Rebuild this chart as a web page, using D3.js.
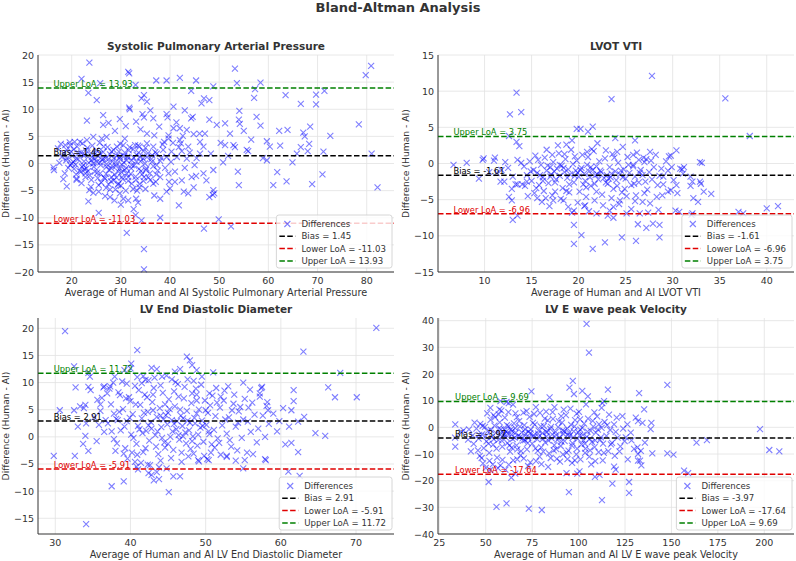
<!DOCTYPE html>
<html>
<head>
<meta charset="utf-8">
<script src="https://cdn.jsdelivr.net/npm/d3@7"></script>
<style>
  body { margin: 0; background: #fff; }
  svg { font-family: "DejaVu Sans", sans-serif; }
</style>
</head>
<body>
<script>
var W = 796, H = 561;

// ---- data: [average, difference] ----
var spapPoints = [
  [23.6,18.6],[22.0,15.6],[25.8,14.8],[23.4,13.0],[25.1,11.7],[31.5,16.9],[31.7,16.6],[33.0,14.5],[23.1,7.9],[26.4,8.9],
  [26.4,7.1],[31.7,10.3],[31.8,10.0],[33.1,7.7],[34.2,12.0],[34.7,12.6],[34.4,9.1],[34.7,8.5],[35.3,11.4],[35.3,5.5],
  [35.3,3.7],[37.2,15.3],[36.6,8.3],[37.8,6.8],[39.3,15.3],[39.3,9.1],[39.5,8.5],[40.7,10.5],[39.7,5.2],[39.7,4.6],
  [42.0,15.8],[43.0,9.8],[44.3,8.3],[44.6,8.6],[43.4,6.2],[42.0,6.5],[40.7,6.5],[42.0,4.3],[42.2,3.7],[45.3,15.3],
  [44.3,13.4],[46.4,11.1],[46.9,12.0],[48.0,11.7],[48.0,8.1],[48.8,14.2],[46.0,5.5],[47.1,5.5],[49.5,7.1],[51.2,7.4],
  [52.2,5.5],[51.2,3.4],[53.2,17.5],[53.6,14.8],[54.1,9.7],[54.0,8.1],[54.2,7.3],[52.9,3.4],[53.2,3.0],[55.0,6.0],
  [55.6,2.5],[55.9,2.3],[57.1,12.1],[57.3,13.7],[57.6,8.6],[58.4,14.9],[58.4,7.0],[59.7,4.1],[60.3,3.1],[62.2,6.0],
  [62.4,3.3],[63.5,12.6],[63.9,6.2],[66.6,11.0],[67.1,5.7],[67.4,5.0],[68.5,6.8],[69.7,12.7],[69.7,10.9],[71.4,13.4],
  [72.6,5.1],[66.6,3.0],[68.0,2.3],[68.3,3.6],[71.2,2.2],[78.4,7.2],[79.8,16.3],[80.9,18.0],[81.0,1.8],[82.2,-4.4],
  [59.7,0.6],[64.9,0.2],[50.8,0.2],[61.0,-4.0],[63.7,-3.3],[68.9,-3.8],[71.0,-2.0],[54.0,-4.0],[53.8,-1.5],[48.8,-1.2],
  [47.4,-3.1],[48.8,-4.9],[49.0,-5.5],[48.7,-5.8],[48.0,-6.2],[46.9,-12.0],[52.4,-11.6],[49.9,-10.3],[41.8,-7.7],[42.8,-5.2],
  [43.7,-5.5],[42.4,-3.1],[44.4,-2.5],[45.3,-2.3],[45.0,-0.3],[45.4,1.0],[46.1,1.8],[46.8,3.1],[46.1,4.0],[38.0,-6.5],
  [38.0,-10.0],[39.3,-5.2],[40.0,-4.6],[39.8,-3.4],[39.7,-1.8],[36.6,-3.7],[37.1,-3.4],[38.0,-2.5],[31.2,-12.8],[34.7,-15.8],
  [34.7,-19.5],[34.2,-10.5],[33.0,-9.5],[32.6,-8.4],[31.5,-6.8],[30.5,-6.5],[29.8,-5.5],[33.1,-6.5],[33.3,-5.0],[33.8,-4.4],
  [34.6,-3.2],[34.7,-2.5],[35.1,-1.2],[23.4,-7.0],[25.5,-9.1],[23.6,-4.9],[24.4,-5.4],[25.5,-5.2],[23.9,-4.3],[27.8,-6.2],
  [27.8,-4.8],[28.1,-2.5],[28.5,-3.1],[19.0,-4.2],[18.3,-2.9],[20.9,-2.0],[21.0,-2.8],[22.8,-1.8],[22.8,-2.5],[16.3,-0.7],
  [16.4,-1.2],[17.5,0.1],[18.0,1.2],[19.0,2.5],[18.7,3.4],[19.7,3.4],[20.6,4.0],[21.7,4.0],[23.1,4.3],[24.4,4.9],
  [26.1,4.6],[27.1,4.9],[28.8,6.0],[30.8,4.6],[30.5,3.4],[29.2,3.1],[28.1,2.2],[25.8,1.8],[24.1,1.2],[22.4,1.5],
  [21.0,0.9],[20.3,0.3],[19.7,-0.3],[22.4,-0.3],[24.4,0.0],[25.1,0.3],[26.4,0.9],[27.1,-0.6],[28.1,-0.9],[29.2,0.0],
  [29.8,1.2],[31.2,0.6],[32.2,-0.3],[33.2,0.3],[33.9,1.2],[35.3,1.2],[36.3,0.3],[37.3,-0.3],[36.6,3.1],[37.3,1.8],
  [38.6,2.5],[39.3,1.2],[40.3,2.2],[41.4,1.2],[42.4,2.3],[43.4,0.9],[43.7,3.1],[32.9,3.4],[33.8,3.1],[29.8,-0.9],
  [30.8,-1.2],[30.2,-2.5],[31.5,-2.5],[32.2,-3.7],[29.5,-3.7],[27.5,-3.8],[26.8,-2.8],[25.8,-1.8],[24.7,-1.5],[29.5,-1.5],
  [22.6,-1.1],[21.9,-1.5],
  [17.2,2.8],[17.8,3.6],[18.4,1.9],[18.9,0.6],[19.3,-0.8],[19.6,3.9],[20.1,1.4],[20.4,2.6],[20.8,-0.2],[21.1,3.1],
  [21.3,0.8],[21.6,-1.4],[21.9,2.0],[22.2,3.7],[22.5,0.4],[22.7,1.6],[23.0,-0.9],[23.2,2.9],[23.5,0.1],[23.7,-2.2],
  [23.9,1.9],[24.2,3.3],[24.5,-0.6],[24.7,0.9],[25.0,2.4],[25.2,-1.7],[25.4,1.3],[25.7,3.8],[25.9,-0.3],[26.2,0.7],
  [26.4,2.1],[26.6,-2.6],[26.9,1.0],[27.1,-0.1],[27.3,3.0],[27.6,-1.2],[27.8,1.7],[28.0,-3.3],[28.3,0.4],[28.5,2.5],
  [28.7,-2.0],[29.0,-0.5],[29.2,1.4],[29.4,-3.9],[29.7,0.9],[29.9,3.6],[30.1,-1.6],[30.4,-2.9],[30.6,0.2],[30.8,2.0],
  [31.1,-0.8],[31.3,1.2],[31.5,-3.2],[31.8,3.0],[32.0,-1.9],[32.2,0.6],[32.5,2.6],[32.7,-0.4],[33.0,-2.4],[33.2,1.6],
  [33.5,3.3],[33.7,-1.0],[34.0,0.4],[34.3,-2.0],[34.6,2.3],[34.9,0.0],[35.2,-0.9],[35.5,1.9],[35.9,-1.8],[36.2,0.8],
  [36.6,-0.5],[37.0,2.1],[37.5,-1.3],[38.0,0.5],[38.5,3.5],[19.0,1.0],[20.0,0.0],[21.0,-3.0],[22.0,-3.6],[24.0,-3.0],
  [25.5,-4.0],[26.0,-3.5],[27.0,-4.5],[28.9,-4.8],[30.0,-4.1],[31.0,-5.0],[32.5,-4.7],[33.8,-3.8],[35.0,-4.7],[36.0,-3.0],
  [18.6,-1.8],[19.9,2.2],[20.5,-1.0],[21.4,1.9],[22.1,-0.6],[22.9,2.4],[23.3,-1.4],[24.0,0.6],[24.8,1.8],[25.3,-2.7],
  [25.8,0.2],[26.5,3.1],[27.0,-1.9],[27.5,0.8],[28.2,-0.4],[28.6,1.0],[29.1,-2.6],[29.6,2.2],[30.2,-0.2],[30.7,1.4],
  [31.2,-1.9],[31.6,2.4],[32.1,-0.9],[32.6,1.1],[33.1,-3.0],[33.6,2.0],[34.1,-1.4],[34.5,0.9],[35.0,2.9],[35.6,-2.6],
  [36.4,1.5],[37.2,-2.0],[38.2,1.0],[39.0,-0.8],[40.2,0.3],[41.0,-1.5],[41.8,3.0],[43.0,-0.8],[44.0,2.0],[38.8,4.0],
  [40.6,3.8],[42.6,5.1],[44.8,5.4],[36.8,5.2],[34.0,6.3],[31.0,6.9],[27.5,7.5],[29.8,8.2],[36.0,9.8],[41.3,7.6],
  [33.5,-7.2],[30.0,-7.6],[28.7,-6.8],[26.8,-6.0],[36.8,-5.9],[41.0,-3.4],[44.8,-4.4],[46.8,-1.8],[48.3,1.8],[50.3,3.8],
  [51.8,1.4],[56.5,4.4],[58.9,1.0],[61.8,-1.6],[65.8,1.8]
];

var lvotPoints = [
  [27.8,12.1],[13.4,9.8],[23.5,8.9],[35.6,9.0],[13.9,7.1],[12.7,6.8],[21.5,5.1],[21.0,4.4],[19.8,4.8],[20.2,4.8],
  [12.6,3.8],[23.9,3.5],[38.2,3.8],[26.0,3.2],[13.4,3.0],[13.7,2.4],[6.7,-0.2],[8.1,0.1],[9.4,-2.1],[9.9,0.7],
  [11.1,0.8],[11.3,-1.3],[11.7,-2.5],[12.1,-2.5],[12.6,-4.6],[12.9,-5.1],[13.0,-7.8],[13.5,-7.2],[13.3,-2.9],[13.5,-2.9],
  [14.3,-3.1],[14.5,-2.5],[15.6,-4.8],[16.1,-5.3],[16.5,-4.8],[17.3,-5.1],[17.5,-3.9],[18.4,-5.1],[19.3,-6.8],[19.5,-6.5],
  [19.5,-8.5],[19.5,-11.1],[20.3,-9.9],[21.5,-11.8],[20.6,-5.9],[20.7,-5.8],[21.9,-6.9],[22.8,-10.9],[23.1,-7.2],[23.7,-7.5],
  [24.6,-10.2],[23.7,-6.0],[24.4,-5.1],[25.1,-6.9],[26.3,-8.4],[26.1,-10.7],[26.5,-6.9],[27.2,-8.9],[27.9,-8.3],[28.6,-8.5],
  [28.6,-10.2],[28.5,-6.4],[27.6,-5.5],[26.8,-5.3],[26.1,-4.4],[29.8,-3.7],[29.5,-3.9],[30.5,-4.1],[30.4,-3.0],[30.8,-0.7],
  [31.0,-0.8],[31.2,-0.5],[29.9,-0.5],[29.6,1.0],[29.8,1.1],[30.4,1.8],[27.6,1.6],[27.2,0.6],[25.8,-0.2],[28.8,-0.7],
  [29.0,-1.8],[31.9,-1.8],[32.1,-2.5],[31.9,-3.1],[32.2,-4.8],[32.7,-5.3],[32.9,-2.5],[33.0,-2.8],[32.1,-6.9],[32.0,-7.1],
  [30.7,-6.7],[30.3,-6.5],[33.1,0.1],[32.9,0.2],[33.3,-3.9],[34.1,-4.2],[37.0,-6.7],[37.5,-6.9],[40.0,-6.2],[41.2,-5.9],
  [14.2,-0.4],[14.5,-1.6],[14.8,0.3],[15.0,-2.4],[15.2,-0.9],[15.4,1.1],[15.6,-1.3],[15.8,-3.0],[16.0,-0.2],[16.2,-1.9],
  [16.4,0.8],[16.6,-1.0],[16.8,-2.7],[17.0,-0.5],[17.1,-1.5],[17.3,0.2],[17.4,-1.1],[17.6,-2.2],[17.7,-0.7],[17.9,1.4],
  [18.0,-1.7],[18.2,-0.3],[18.3,-3.4],[18.5,-1.2],[18.6,0.6],[18.8,-2.0],[18.9,-0.8],[19.1,-1.5],[19.2,1.9],[19.4,-0.1],
  [19.5,-2.6],[19.7,-1.0],[19.8,0.4],[20.0,-1.8],[20.1,-3.9],[20.3,-0.6],[20.4,1.2],[20.6,-1.4],[20.7,-2.4],[20.9,-0.2],
  [21.0,0.9],[21.2,-1.9],[21.3,-3.1],[21.5,-0.9],[21.6,1.7],[21.8,-1.6],[21.9,-0.4],[22.1,-2.2],[22.2,0.3],[22.4,-1.2],
  [22.5,-4.3],[22.7,-2.0],[22.8,0.7],[23.0,-1.6],[23.1,-2.8],[23.3,-0.5],[23.4,-1.9],[23.6,1.3],[23.7,-3.5],[23.9,-1.1],
  [24.0,-2.3],[24.2,0.1],[24.4,-1.5],[24.6,-4.0],[24.8,-0.8],[25.0,-2.1],[25.2,0.9],[25.4,-1.3],[25.6,-3.0],[25.8,-0.4],
  [26.0,-1.8],[26.2,1.5],[26.4,-2.6],[26.6,-0.9],[26.8,-1.6],[27.0,0.2],[27.3,-3.6],[27.5,-1.2],[27.8,-2.2],[28.0,-0.5],
  [28.3,-4.6],[28.6,-1.7],[29.0,-2.9],[29.5,-1.0],[12.5,-0.6],[13.0,-1.8],[13.5,0.5],[14.0,-2.9],[15.3,-4.1],[16.3,-3.8],
  [17.2,-4.4],[18.1,-4.9],[19.0,-4.0],[19.9,-5.4],[20.8,-4.6],[21.7,-5.1],[22.6,-5.8],[23.5,-4.8],[24.3,-5.6],[25.1,-4.5],
  [26.0,-5.2],[16.6,1.9],[17.8,2.5],[18.7,2.6],[19.6,1.0],[21.4,2.0],[22.9,1.8],[24.7,2.3],[25.8,1.2],[26.9,0.8],
  [11.8,-0.9],[12.2,0.2],[10.5,-1.2],[11.0,0.4],[9.8,0.5],
  [14.9,-1.1],[15.9,-1.6],[16.7,-0.3],[17.5,-2.6],[18.4,-0.6],[19.0,-2.9],[19.6,-1.7],[20.2,-0.9],[20.8,-3.3],[21.1,-1.1],
  [21.7,-2.8],[22.3,-1.0],[22.9,-2.6],[23.5,-1.4],[24.1,-3.1],[24.7,-1.9],[25.3,-0.2],[25.9,-2.8],[26.5,-1.3],[27.1,-2.5],
  [27.7,0.4],[28.4,-3.0],[17.0,-1.8],[18.0,-0.2],[19.9,-1.3],[21.3,-0.5],[22.0,-1.5],[23.2,-2.1],[24.5,-1.0],[20.5,-2.9],
  [16.2,-2.4],[15.5,-3.4],[18.7,-3.8],[21.9,-3.9],[24.9,-3.5],[27.0,-4.1],[28.9,-4.4],[30.1,-2.3],[31.1,-1.4],[29.3,0.3],
  [28.2,1.2],[26.4,0.5],[23.8,0.8],[20.9,1.6],[18.5,1.3],[15.7,0.5],[13.9,0.1],[12.9,-3.5],[14.6,-4.5],[16.9,-5.9],
  [18.9,-6.0],[21.1,-6.6],[23.3,-6.5],[25.6,-6.3],[27.4,-6.8],[22.0,2.8],[24.1,1.6],[19.3,3.2],[17.2,1.2]
];

var lveddPoints = [
  [31.3,19.5],[72.7,20.1],[29.8,-3.5],[30.6,4.9],[32.7,9.1],[32.5,13.0],[32.5,4.9],[32.6,-3.5],[33.0,1.9],[33.3,5.6],
  [33.8,5.3],[33.7,-1.3],[34.0,0.2],[34.1,2.5],[34.0,5.9],[34.4,11.8],[34.4,9.2],[34.6,11.1],[34.7,8.6],[34.4,-2.6],
  [34.1,-16.1],[35.8,2.2],[35.6,6.8],[36.0,6.0],[36.4,9.1],[36.5,9.3],[37.3,9.3],[37.7,10.0],[36.9,8.0],[37.5,-9.1],
  [37.8,4.3],[38.3,3.1],[38.6,7.7],[39.2,12.3],[39.1,-8.2],[39.4,7.1],[40.1,13.5],[40.9,16.0],[40.6,-4.6],[40.8,-5.5],
  [40.9,-3.3],[41.7,11.2],[42.4,10.4],[42.3,-5.1],[42.4,-6.7],[42.8,-7.0],[43.1,-8.0],[43.8,-7.8],[43.5,12.5],[44.2,11.1],
  [45.1,-10.2],[44.8,-5.8],[45.7,-7.3],[46.6,-7.3],[45.9,12.0],[46.6,12.5],[47.5,14.8],[47.9,14.1],[48.2,13.2],[48.8,12.3],
  [49.5,11.1],[51.0,11.9],[48.8,7.8],[48.2,8.0],[49.0,-4.3],[49.1,-4.5],[50.4,-4.3],[52.8,-3.5],[52.8,-3.7],[55.0,10.0],
  [55.0,-5.8],[55.5,-2.9],[55.2,-4.3],[57.2,7.4],[57.2,8.0],[57.5,9.2],[57.4,9.0],[57.9,-4.1],[58.0,-4.3],[57.9,0.0],
  [58.1,5.7],[58.3,4.9],[59.5,1.0],[60.3,5.3],[60.6,-1.4],[61.1,1.9],[61.0,-6.4],[61.4,-1.1],[61.7,8.6],[61.7,6.6],
  [61.4,4.9],[62.3,-2.8],[62.5,-7.2],[63.0,15.7],[63.1,3.7],[62.3,2.8],[64.6,0.7],[65.9,0.2],[66.3,9.1],[67.2,7.3],
  [67.9,11.8],[70.1,7.3],
  [37.0,2.5],[37.4,6.0],[37.8,-0.4],[38.1,3.3],[38.4,8.2],[38.7,1.2],[39.0,5.1],[39.3,-2.1],[39.5,2.9],[39.8,7.3],
  [40.1,0.4],[40.3,4.2],[40.6,9.4],[40.8,-1.3],[41.0,2.0],[41.3,5.9],[41.5,3.4],[41.7,-2.8],[41.9,7.8],[42.1,1.1],
  [42.3,4.6],[42.5,-0.7],[42.7,2.7],[42.9,6.4],[43.1,9.0],[43.3,0.3],[43.5,3.7],[43.7,-3.2],[43.9,5.3],[44.1,1.8],
  [44.3,8.1],[44.5,-1.0],[44.7,4.0],[44.9,2.3],[45.1,6.9],[45.3,0.0],[45.5,3.1],[45.7,-2.4],[45.9,5.6],[46.1,1.4],
  [46.3,9.7],[46.5,-0.5],[46.7,3.9],[46.9,2.0],[47.1,7.1],[47.3,0.8],[47.5,4.8],[47.7,-3.6],[47.9,2.6],[48.1,6.2],
  [48.3,0.1],[48.5,3.5],[48.7,8.9],[48.9,-1.6],[49.1,5.0],[49.3,1.7],[49.5,3.0],[49.7,-0.9],[49.9,6.7],[50.1,2.2],
  [50.3,4.4],[50.5,0.5],[50.7,-2.9],[50.9,7.6],[51.1,1.3],[51.3,3.8],[51.6,-0.3],[51.9,5.4],[52.2,2.1],[52.5,8.5],
  [52.8,0.6],[53.1,3.6],[53.4,-1.8],[53.7,6.1],[54.0,1.9],[54.4,4.7],[54.8,-0.2],[55.2,7.0],[55.6,2.8],[56.0,0.9],
  [56.5,4.1],[57.0,1.5],[36.0,4.8],[36.5,0.9],[35.2,3.6],[35.5,-0.8],[38.9,10.2],[39.6,-4.0],[40.9,11.0],[41.4,-4.8],
  [42.0,10.5],[42.6,-5.2],[43.2,10.9],[44.0,-4.4],[44.8,11.3],[45.4,-3.9],[46.0,10.1],[46.8,-4.6],[47.6,10.6],[48.4,-3.1],
  [49.4,9.6],[50.2,-4.1],[51.4,9.0],[52.0,-3.3],[53.0,9.3],[54.2,-2.5],[37.2,8.9],[38.0,-2.6],[40.0,6.6],[41.1,8.6],
  [42.2,7.3],[43.4,-1.8],[44.6,6.0],[45.8,8.4],[46.6,5.0],[47.4,-1.2],[48.8,4.3],[50.6,5.8],[51.8,-1.1],[53.5,4.9],
  [55.0,3.2],[39.2,1.9],[40.4,-0.2],[41.6,0.7],[42.8,1.5],[44.2,-0.2],[45.6,1.0],[46.4,0.3],[47.8,1.2],[49.0,0.4],
  [50.4,1.0],[43.0,4.9],[44.4,3.2],[45.0,4.4],[46.2,2.9],[47.0,3.4],[48.6,2.5],[52.4,6.7],[54.6,5.5],[56.2,6.3],
  [57.6,3.9],[58.4,2.4],[59.0,4.3],
  [38.5,4.6],[39.9,3.5],[40.7,6.0],[41.2,1.4],[41.8,4.4],[42.4,2.1],[43.0,7.8],[43.6,1.0],[44.0,3.9],[44.6,-2.0],
  [45.2,5.1],[45.8,2.4],[46.4,7.4],[47.0,0.1],[47.6,3.0],[48.2,-0.8],[48.8,6.7],[49.6,2.0],[50.0,4.9],[50.8,-1.4],
  [51.5,6.3],[52.6,3.2],[53.2,-0.6],[54.3,2.6],[55.7,5.4],[56.8,-1.0],[58.2,6.4],[59.8,2.9],[36.7,3.1],[37.5,1.0],
  [38.2,-1.2],[39.1,-3.1],[40.2,-2.9],[42.0,-2.1],[43.8,-5.6],[45.0,-1.3],[46.8,-2.9],[48.0,-2.2],[49.8,-3.5],[51.2,-2.0],
  [36.2,7.2],[37.9,11.1],[39.5,9.8],[41.5,9.9],[44.0,9.5],[45.5,10.6],[47.2,9.2],[48.4,10.3],[50.5,8.0],[52.0,7.4],
  [53.8,7.8],[55.9,8.7],[54.0,-4.4],[56.3,-3.2],[41.0,-6.0],[43.5,-6.5],[40.0,12.6],[42.8,12.7]
];

var lvePoints = [
  [104.3,38.8],[105.6,28.0],[96.9,17.4],[95.1,14.9],[97.5,12.5],[102.0,13.7],[105.0,11.6],[74.6,13.5],[84.4,11.2],[115.8,14.1],
  [132.6,12.8],[147.8,15.9],[57.4,6.7],[61.2,9.5],[62.4,9.1],[64.7,8.5],[57.9,9.8],[52.5,7.3],[33.6,1.1],[33.6,-7.2],
  [51.6,-20.5],[55.8,-29.8],[61.2,-28.5],[73.2,-30.5],[80.2,-31.0],[63.8,-18.9],[65.9,-17.4],[60.6,-15.9],[57.9,-14.3],[62.4,-14.0],
  [94.8,-24.3],[93.5,-17.2],[99.3,-17.4],[100.5,-16.5],[108.8,-18.6],[111.3,-17.8],[112.6,-27.3],[118.2,-21.1],[119.1,-14.7],[120.0,-15.9],
  [127.2,-20.5],[127.2,-24.6],[129.9,-8.1],[131.7,-7.5],[132.0,-10.0],[133.1,-12.5],[133.8,-14.3],[132.0,-12.5],[133.5,-8.8],[130.8,3.6],
  [132.0,2.3],[134.4,1.7],[135.3,6.7],[135.7,-5.7],[138.8,-0.7],[139.2,1.7],[139.7,-9.8],[147.8,-9.8],[151.1,-10.2],[156.8,-16.2],
  [159.0,-17.2],[163.5,-5.7],[169.1,-4.8],[197.7,-0.7],[202.7,-8.5],[208.1,-9.0],[112.4,7.3],[112.8,9.1],[113.7,9.8],[116.4,4.8],
  [120.5,3.6],[123.6,4.2],[126.3,1.1],[128.1,-2.0],[125.4,-3.8],[119.1,1.1],
  [45.0,-0.5],[46.2,-4.2],[47.1,1.3],[48.0,-2.6],[48.9,-7.8],[49.6,0.2],[50.4,-5.3],[51.1,-1.4],[51.9,-9.6],[52.6,2.8],
  [53.3,-3.7],[54.0,-6.5],[54.7,0.6],[55.4,-2.1],[56.1,-11.4],[56.8,-4.8],[57.5,1.9],[58.2,-0.8],[58.9,-7.2],[59.6,-3.0],
  [60.3,3.6],[61.0,-1.6],[61.7,-5.9],[62.4,0.4],[63.1,-9.1],[63.8,-2.7],[64.5,-4.4],[65.2,1.5],[65.9,-0.3],[66.6,-6.8],
  [67.3,-3.3],[68.0,2.3],[68.7,-10.5],[69.4,-1.9],[70.1,-5.0],[70.8,0.8],[71.5,-2.4],[72.2,-8.3],[72.9,-4.0],[73.6,3.9],
  [74.3,-0.9],[75.0,-6.1],[75.7,-2.9],[76.4,1.0],[77.1,-12.7],[77.8,-4.5],[78.5,-1.2],[79.2,5.4],[79.9,-7.5],[80.6,-2.2],
  [81.3,0.5],[82.0,-5.6],[82.7,-3.4],[83.4,2.6],[84.1,-9.8],[84.8,-0.6],[85.5,-4.1],[86.2,3.2],[86.9,-6.7],[87.6,-1.7],
  [88.3,-11.8],[89.0,0.1],[89.7,-3.8],[90.4,-7.0],[91.1,1.8],[91.8,-2.5],[92.5,-5.2],[93.2,4.6],[93.9,-0.4],[94.6,-8.7],
  [95.3,-3.1],[96.0,0.9],[96.7,-5.9],[97.4,-1.5],[98.1,2.7],[98.8,-10.1],[99.5,-4.3],[100.2,5.8],[100.9,-0.9],[101.6,-6.4],
  [102.3,-2.8],[103.0,1.4],[103.7,-8.0],[104.4,-3.6],[105.1,3.3],[105.8,-11.0],[106.5,-1.3],[107.2,-5.5],[107.9,0.3],[108.6,-7.4],
  [109.3,-2.0],[110.0,4.1],[110.8,-9.3],[111.6,-4.7],[112.4,-0.2],[113.2,-6.1],[114.0,2.0],[115.0,-3.2],[116.0,-8.9],[117.0,-1.0],
  [118.0,-5.8],[119.5,-10.7],[121.0,-3.9],[122.5,-7.1],[124.0,-0.5],[33.5,-3.9],[38.0,-1.1],[40.5,-4.6],[42.0,-9.0],[43.5,-6.2],
  [44.0,1.8],[46.8,-10.7],[48.5,-13.5],[50.0,-15.2],[52.0,-12.6],[53.8,-13.9],[55.0,3.8],[57.0,4.9],[59.0,-12.2],[60.0,-0.8],
  [62.0,-2.3],[64.0,-7.6],[66.0,5.2],[67.0,-12.0],[69.0,-8.9],[70.5,-11.6],[72.0,6.1],[74.0,-13.1],[76.0,5.0],[78.0,-8.8],
  [80.0,-13.8],[82.5,5.9],[85.0,-11.5],[87.0,7.6],[88.0,-8.2],[90.0,-12.9],[92.0,6.6],[94.0,-11.9],[96.5,-13.3],[99.0,5.1],
  [101.0,-12.0],[103.5,-9.6],[106.0,-4.3],[109.0,-12.7],[111.0,1.2],[57.8,-2.8],[60.9,-3.9],[63.5,-0.9],[66.2,-2.0],[68.6,-3.6],
  [71.2,-4.8],[73.0,-1.6],[75.5,-3.5],[78.2,-2.4],[80.8,-4.3],[83.0,-1.8],[85.8,-2.6],[88.6,-4.7],[91.4,-1.1],[94.2,-2.9],
  [97.0,-3.8],[99.8,-1.9],[102.6,-4.9],
  [46.5,-2.8],[48.3,0.5],[50.0,-3.3],[51.5,-6.1],[52.8,-1.0],[54.4,-4.4],[55.8,-8.0],[57.2,-0.4],[58.6,-5.0],[60.0,-2.5],
  [61.4,0.8],[62.8,-6.8],[64.2,-1.4],[65.6,-3.9],[67.0,-8.3],[68.4,0.3],[69.8,-4.1],[71.2,-0.8],[72.6,-5.9],[74.0,-2.2],
  [75.4,1.7],[76.8,-7.9],[78.4,-3.5],[79.6,0.4],[81.0,-9.1],[82.4,-1.6],[83.8,-5.0],[85.2,0.2],[86.6,-8.6],[88.0,-2.9],
  [89.4,2.2],[90.8,-5.4],[92.2,-1.4],[93.6,-9.5],[95.0,-2.0],[96.4,-6.9],[97.8,0.4],[99.2,-8.0],[100.6,-3.0],[102.0,-0.2],
  [103.4,-6.1],[104.8,-1.6],[106.2,-8.6],[107.6,2.4],[109.0,-4.9],[110.4,-0.9],[112.0,-3.8],[113.6,-9.6],[115.4,0.8],[117.4,-6.4],
  [120.0,-1.7],[122.0,-9.0],[124.8,-5.2],[126.5,-12.0],[128.5,-4.9],[50.8,5.2],[54.2,4.6],[58.4,6.3],[62.2,5.7],[66.8,3.8],
  [70.3,5.5],[77.0,7.6],[81.8,3.3],[86.0,5.7],[90.6,4.2],[95.6,7.0],[100.8,3.0],[104.0,8.6],[108.5,5.6],[45.8,-8.6],
  [47.8,-11.5],[52.4,-16.0],[56.6,-15.3],[64.8,-12.4],[72.8,-14.5],[79.0,-11.0],[83.6,-14.8],[91.6,-10.1],[98.0,-12.4],[106.8,-13.9],
  [113.0,-12.4],[37.0,-1.8],[41.0,-0.8],[43.0,-3.0]
];

var titles = ["Systolic Pulmonary Arterial Pressure", "LVOT VTI", "LV End Diastolic Diameter", "LV E wave peak Velocity"];
var biasValues = [1.45, -1.61, 2.91, -3.97];
var lowerLoA = [-11.03, -6.96, -5.91, -17.64];
var upperLoA = [13.93, 3.75, 11.72, 9.69];
var xTicks = [d3.range(20, 81, 10), d3.range(10, 41, 5), d3.range(30, 71, 10), d3.range(25, 201, 25)];
var yTicks = [d3.range(-20, 21, 5), d3.range(-15, 16, 5), d3.range(-15, 21, 5), d3.range(-40, 41, 10)];

var panels = [
  { pts: spapPoints,  xd: [13.15, 85.55], yd: [-20, 20],    l: 38,  r: 394, t: 55,  b: 272 },
  { pts: lvotPoints,  xd: [5.05, 42.9],   yd: [-15, 15],    l: 438, r: 794, t: 55,  b: 272 },
  { pts: lveddPoints, xd: [27.7, 75.05],  yd: [-17.9, 21.9], l: 38,  r: 394, t: 318, b: 534 },
  { pts: lvePoints,   xd: [24.3, 216],    yd: [-40, 41],    l: 438, r: 794, t: 318, b: 534 }
];

var svg = d3.select("body").append("svg")
  .attr("width", W).attr("height", H);

svg.append("text")
  .attr("x", W / 2).attr("y", 12)
  .attr("text-anchor", "middle")
  .attr("font-size", 13).attr("font-weight", "bold").attr("fill", "#333")
  .text("Bland-Altman Analysis");

var fmtTick = function(v) { return v < 0 ? "\u2212" + Math.abs(v) : "" + v; };
var xPath = "M-3,-3L3,3M-3,3L3,-3";

panels.forEach(function(p, i) {
  var x = d3.scaleLinear().domain(p.xd).range([p.l, p.r]),
      y = d3.scaleLinear().domain(p.yd).range([p.b, p.t]);
  var g = svg.append("g");

  // grid
  g.selectAll(".gx").data(xTicks[i]).enter().append("line")
    .attr("x1", function(d) { return x(d); }).attr("x2", function(d) { return x(d); })
    .attr("y1", p.t).attr("y2", p.b)
    .attr("stroke", "#e2e2e2").attr("stroke-width", 0.8);
  g.selectAll(".gy").data(yTicks[i]).enter().append("line")
    .attr("y1", function(d) { return y(d); }).attr("y2", function(d) { return y(d); })
    .attr("x1", p.l).attr("x2", p.r)
    .attr("stroke", "#e2e2e2").attr("stroke-width", 0.8);

  // points
  g.selectAll(".pt").data(p.pts).enter().append("path")
    .attr("d", xPath)
    .attr("transform", function(d) { return "translate(" + x(d[0]) + "," + y(d[1]) + ")"; })
    .attr("stroke", "blue").attr("stroke-opacity", 0.5).attr("stroke-width", 1.1).attr("fill", "none");

  // reference lines
  var refs = [
    { v: biasValues[i], c: "black",   lab: "Bias = " + biasValues[i].toFixed(2) },
    { v: lowerLoA[i],   c: "#e00000", lab: "Lower LoA = " + lowerLoA[i].toFixed(2) },
    { v: upperLoA[i],   c: "#008000", lab: "Upper LoA = " + upperLoA[i].toFixed(2) }
  ];
  var minX = d3.min(p.pts, function(d) { return d[0]; });
  refs.forEach(function(r) {
    g.append("line")
      .attr("x1", p.l).attr("x2", p.r)
      .attr("y1", y(r.v)).attr("y2", y(r.v))
      .attr("stroke", r.c).attr("stroke-width", 1.5).attr("stroke-dasharray", "5.5,2.4");
    g.append("text")
      .attr("x", x(minX)).attr("y", y(r.v) - 1)
      .attr("font-size", 8.3).attr("fill", r.c)
      .text(r.lab);
  });

  // axes
  g.append("line").attr("x1", p.l).attr("x2", p.l).attr("y1", p.t).attr("y2", p.b)
    .attr("stroke", "#333").attr("stroke-width", 1);
  g.append("line").attr("x1", p.l).attr("x2", p.r).attr("y1", p.b).attr("y2", p.b)
    .attr("stroke", "#333").attr("stroke-width", 1);
  g.selectAll(".tx").data(xTicks[i]).enter().append("text")
    .attr("x", function(d) { return x(d); }).attr("y", p.b + 12)
    .attr("text-anchor", "middle").attr("font-size", 9.5).attr("fill", "#333")
    .text(fmtTick);
  g.selectAll(".ty").data(yTicks[i]).enter().append("text")
    .attr("x", p.l - 4).attr("y", function(d) { return y(d) + 3.5; })
    .attr("text-anchor", "end").attr("font-size", 9.5).attr("fill", "#333")
    .text(fmtTick);

  g.append("text")
    .attr("x", (p.l + p.r) / 2).attr("y", p.t - 5)
    .attr("text-anchor", "middle").attr("font-size", 10.5).attr("font-weight", "bold").attr("fill", "#333")
    .text(titles[i]);
  g.append("text")
    .attr("x", (p.l + p.r) / 2).attr("y", p.b + 24)
    .attr("text-anchor", "middle").attr("font-size", 9.7).attr("fill", "#333")
    .text("Average of Human and AI " + titles[i]);
  g.append("text")
    .attr("transform", "translate(" + (p.l - 29) + "," + ((p.t + p.b) / 2) + ")rotate(-90)")
    .attr("text-anchor", "middle").attr("font-size", 9.2).attr("fill", "#333")
    .text("Difference (Human - AI)");

  // legend
  var lg = g.append("g");
  var box = lg.append("rect").attr("rx", 2.5).attr("fill", "white").attr("fill-opacity", 0.8)
    .attr("stroke", "#cccccc").attr("stroke-width", 0.8);
  var items = [{ lab: "Differences" }].concat(refs);
  var maxW = 0;
  items.forEach(function(it, k) {
    var yy = 8 + k * 12.3;
    if (k === 0) {
      lg.append("path").attr("d", xPath).attr("transform", "translate(" + 11 + "," + yy + ")")
        .attr("stroke", "blue").attr("stroke-opacity", 0.5).attr("stroke-width", 1.1).attr("fill", "none");
    } else {
      lg.append("line").attr("x1", 3).attr("x2", 19).attr("y1", yy).attr("y2", yy)
        .attr("stroke", it.c).attr("stroke-width", 1.5).attr("stroke-dasharray", "5.5,2.4");
    }
    var t = lg.append("text").attr("x", 25).attr("y", yy + 3.1)
      .attr("font-size", 8.6).attr("fill", "#333").text(it.lab);
    maxW = Math.max(maxW, t.node().getComputedTextLength());
  });
  var bw = 25 + maxW + 6, bh = 53;
  box.attr("x", 0).attr("y", -1).attr("width", bw).attr("height", bh);
  lg.attr("transform", "translate(" + (p.r - 2 - bw) + "," + (p.b - 4 - bh + 1) + ")");
});
</script>
</body>
</html>
